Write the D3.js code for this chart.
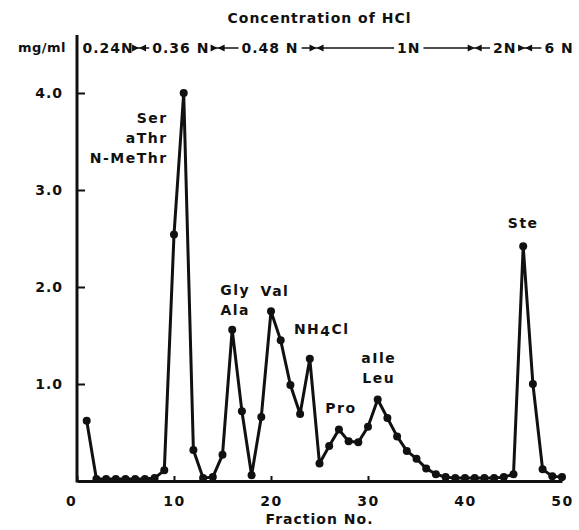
<!DOCTYPE html>
<html>
<head>
<meta charset="utf-8">
<script src="https://cdn.jsdelivr.net/npm/d3@7/dist/d3.min.js"></script>
<style>
  body { margin: 0; background: #fff; }
  text { font-family: "DejaVu Sans", sans-serif; font-weight: bold; fill: #111; }
</style>
</head>
<body>
<div id="chartContainer"></div>
<script>
// fraction number and amount (mg/ml)
var fractions = [1, 2, 3, 4, 5, 6, 7, 8, 9, 10,
  11, 12, 13, 14, 15, 16, 17, 18, 19, 20,
  21, 22, 23, 24, 25, 26, 27, 28, 29, 30,
  31, 32, 33, 34, 35, 36, 37, 38, 39, 40,
  41, 42, 43, 44, 45, 46, 47, 48, 49, 50];
var mgPerMl = [0.62, 0.02, 0.02, 0.02, 0.02, 0.02, 0.02, 0.03, 0.11, 2.54,
  4.00, 0.32, 0.03, 0.04, 0.27, 1.56, 0.72, 0.06, 0.66, 1.75,
  1.45, 0.99, 0.69, 1.26, 0.18, 0.36, 0.53, 0.41, 0.40, 0.56,
  0.84, 0.65, 0.46, 0.31, 0.23, 0.13, 0.07, 0.04, 0.03, 0.03,
  0.03, 0.03, 0.03, 0.04, 0.07, 2.42, 1.00, 0.12, 0.05, 0.04];

var xTicks = [0, 10, 20, 30, 40, 50];
var yTicks = [1, 2, 3, 4];

// HCl steps and the fractions where the eluent was changed
var hclLabels = ["0.24N", "0.36 N", "0.48 N", "1N", "2N", "6 N"];
var hclChanges = [6.4, 14.5, 24.7, 41.0, 46.2];

// peak names and the fraction of the peak they label
var peakNames = [["Ser", "aThr", "N-MeThr"], ["Gly", "Ala"], ["Val"], ["NH4Cl"], ["Pro"], ["aIle", "Leu"], ["Ste"]];
var peakFractions = [11, 16, 20, 24, 27, 31, 46];

var WIDTH = 579, HEIGHT = 530;

var svg = d3.select("#chartContainer").append("svg")
  .attr("width", WIDTH)
  .attr("height", HEIGHT);

var xRange = d3.scaleLinear().domain([0, 50]).range([77, 562]);
var yRange = d3.scaleLinear().domain([0, 4]).range([481, 93]);

// y axis (ticks point inward)
var yAxis = d3.axisLeft(yRange)
  .tickValues(yTicks)
  .tickSizeInner(-8)
  .tickSizeOuter(0)
  .tickPadding(14)
  .tickFormat(d3.format(".1f"));

var gy = svg.append("g")
  .attr("transform", "translate(" + xRange(0) + ",0)")
  .call(yAxis);
gy.select(".domain").remove();
gy.selectAll(".tick line").attr("stroke", "#111").attr("stroke-width", 2);
gy.selectAll(".tick text").style("font-size", "14px").style("letter-spacing", "1px").attr("fill", "#111");

svg.append("line")
  .attr("x1", xRange(0)).attr("x2", xRange(0))
  .attr("y1", 35).attr("y2", yRange(0) + 1.5)
  .attr("stroke", "#111").attr("stroke-width", 3);

// x axis
var xAxis = d3.axisBottom(xRange)
  .tickValues(xTicks)
  .tickSizeInner(-5)
  .tickSizeOuter(0)
  .tickPadding(15)
  .tickFormat(d3.format("d"));

var gx = svg.append("g")
  .attr("transform", "translate(0," + yRange(0) + ")")
  .call(xAxis);
gx.select(".domain").attr("stroke", "#111").attr("stroke-width", 3);
gx.selectAll(".tick line").attr("stroke", "#111").attr("stroke-width", 2);
gx.selectAll(".tick text").style("font-size", "14px").style("letter-spacing", "1.5px").attr("fill", "#111");
gx.selectAll(".tick text").filter(function (d) { return d === 0; }).attr("dx", -6);

svg.append("text")
  .attr("x", (xRange(0) + xRange(50)) / 2)
  .attr("y", 524)
  .attr("text-anchor", "middle")
  .style("font-size", "14px")
  .style("letter-spacing", "1px")
  .text("Fraction No.");

// elution curve
var points = fractions.map(function (f, i) { return { x: f, y: mgPerMl[i] }; });

var lineFunc = d3.line()
  .x(function (d) { return xRange(d.x); })
  .y(function (d) { return yRange(d.y); });

svg.append("path")
  .attr("d", lineFunc(points))
  .attr("stroke", "#111")
  .attr("stroke-width", 3)
  .attr("stroke-linejoin", "round")
  .attr("fill", "none");

svg.selectAll("circle.pt")
  .data(points)
  .enter().append("circle")
  .attr("class", "pt")
  .attr("cx", function (d) { return xRange(d.x); })
  .attr("cy", function (d) { return yRange(d.y); })
  .attr("r", 4)
  .attr("fill", "#111");

// peak labels: offset from the peak point, anchor
var peakLayout = [
  { dx: -16, dy: 25, anchor: "end", down: true },
  { dx: 3, dy: -20, anchor: "middle" },
  { dx: 4, dy: -20, anchor: "middle" },
  { dx: 12, dy: -30, anchor: "middle" },
  { dx: 2, dy: -21, anchor: "middle" },
  { dx: 1, dy: -21, anchor: "middle" },
  { dx: 0, dy: -23, anchor: "middle" }
];

peakNames.forEach(function (lines, i) {
  var f = peakFractions[i];
  var px = xRange(f), py = yRange(mgPerMl[fractions.indexOf(f)]);
  var lay = peakLayout[i];
  var n = lines.length;
  lines.forEach(function (txt, j) {
    var ly = lay.down ? py + lay.dy + j * 20 : py + lay.dy - (n - 1 - j) * 20;
    var t = svg.append("text")
      .attr("x", px + lay.dx)
      .attr("y", ly)
      .attr("dy", "0.35em")
      .attr("text-anchor", lay.anchor)
      .style("font-size", "14px")
      .style("letter-spacing", "1.5px");
    if (txt === "NH4Cl") {
      t.append("tspan").text("NH");
      t.append("tspan").attr("dy", "2").text("4");
      t.append("tspan").attr("dy", "-2").text("Cl");
    } else {
      t.text(txt);
    }
  });
});

// header
svg.append("text")
  .attr("x", (xRange(0) + xRange(50)) / 2)
  .attr("y", 23)
  .attr("text-anchor", "middle")
  .style("font-size", "14px")
  .style("letter-spacing", "1px")
  .text("Concentration of HCl");

svg.append("text")
  .attr("x", 66)
  .attr("y", 52)
  .attr("text-anchor", "end")
  .style("font-size", "13px")
  .style("letter-spacing", "0.5px")
  .text("mg/ml");

// HCl step labels with arrows meeting at each change
var hclCenters = [3.2, 10.7, 19.9, 34.2, 44.1, 49.7];
var rowY = 48;
var edges = [];
hclLabels.forEach(function (lab, i) {
  var t = svg.append("text")
    .attr("x", xRange(hclCenters[i]))
    .attr("y", rowY)
    .attr("dy", "0.35em")
    .attr("text-anchor", "middle")
    .style("font-size", "14px")
    .style("letter-spacing", "1px")
    .text(lab);
  var w = t.node().getComputedTextLength();
  edges.push([xRange(hclCenters[i]) - w / 2, xRange(hclCenters[i]) + w / 2]);
});

function arrowHead(xTip, dir) {
  // dir = +1 points right, -1 points left
  svg.append("path")
    .attr("d", "M" + xTip + "," + rowY +
      "L" + (xTip - dir * 7) + "," + (rowY - 3.5) +
      "L" + (xTip - dir * 7) + "," + (rowY + 3.5) + "Z")
    .attr("fill", "#111");
}

hclChanges.forEach(function (c, i) {
  var bx = xRange(c);
  var leftEnd = edges[i][1] + 3;
  var rightStart = edges[i + 1][0] - 3;
  svg.append("line")
    .attr("x1", leftEnd).attr("x2", bx)
    .attr("y1", rowY).attr("y2", rowY)
    .attr("stroke", "#111").attr("stroke-width", 1.5);
  svg.append("line")
    .attr("x1", bx).attr("x2", rightStart)
    .attr("y1", rowY).attr("y2", rowY)
    .attr("stroke", "#111").attr("stroke-width", 1.5);
  arrowHead(bx, 1);
  arrowHead(bx, -1);
});
</script>
</body>
</html>
